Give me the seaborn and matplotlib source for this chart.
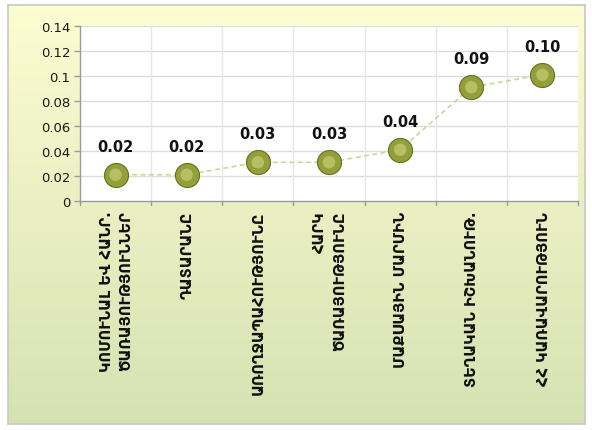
import numpy as np
import pandas as pd
import matplotlib
matplotlib.use("Agg")
import matplotlib.pyplot as plt
import seaborn as sns

categories = [
    "ԿՈՄՈՒՆԱԼ ԵՎ ՀԱՆՐ.\nԾԱՌԱՅՈՒԹՅՈՒՆՆԵՐ",
    "ԴԱՏԱՐԱՆԸ",
    "ԱՌՈՂՋԱՊԱՀՈՒԹՅՈՒՆԸ",
    "ՀԱՐԿ\nԾԱՌԱՅՈՒԹՅՈՒՆԸ",
    "ՄԱՔՍԱՅԻՆ ՄԱՐՄԻՆ",
    "ՏԵՂԱԿԱՆ ԻՇԽԱՆՈՒԹ.",
    "ՀՀ ԿԱՌԱՎԱՐՈՒԹՅՈՒՆ",
]
values = [0.021, 0.021, 0.031, 0.031, 0.041, 0.091, 0.101]
value_labels = ["0.02", "0.02", "0.03", "0.03", "0.04", "0.09", "0.10"]
yticks = [0, 0.02, 0.04, 0.06, 0.08, 0.1, 0.12, 0.14]
ytick_labels = ["0", "0.02", "0.04", "0.06", "0.08", "0.1", "0.12", "0.14"]

sns.set_theme(style="white")
plt.rcParams['font.family'] = ['DejaVu Sans']

W, H = 592, 431
fig = plt.figure(figsize=(W / 100, H / 100), dpi=100, facecolor="white")

# background panel with gradient
bg = fig.add_axes([8 / W, 6 / H, 577 / W, 419 / H], zorder=0)
top = np.array([0.99, 0.99, 0.82])
bot = np.array([0.84, 0.885, 0.70])
t = np.linspace(0, 1, 256)[:, None]
grad = (top[None, :] * (1 - t) + bot[None, :] * t)[:, None, :]
grad = np.repeat(grad, 4, axis=1)
bg.imshow(grad, aspect="auto", extent=[0, 1, 0, 1], origin="upper")
bg.set_xticks([]); bg.set_yticks([])
for s in bg.spines.values():
    s.set_color("#c8c8c8")
    s.set_linewidth(1.2)

ax = fig.add_axes([80 / W, 1 - 202 / H, 498 / W, 175 / H], zorder=2)
ax.set_facecolor("white")

df = pd.DataFrame({"x": np.arange(len(values)), "y": values})
sns.lineplot(data=df, x="x", y="y", ax=ax, color="#c5d89e", linewidth=1.2,
             linestyle=(0, (3, 2)), zorder=3)
sns.scatterplot(data=df, x="x", y="y", ax=ax, s=300, color="#959f3a",
                edgecolor="#66701f", linewidth=0.8, zorder=4, legend=False)
sns.scatterplot(data=df, x="x", y="y", ax=ax, s=80, color="#cfd67f",
                edgecolor="none", linewidth=0, zorder=5, legend=False, alpha=0.6)

for i, (v, lab) in enumerate(zip(values, value_labels)):
    ax.annotate(lab, (i, v), xytext=(0, 15), textcoords="offset points",
                ha="center", va="bottom", fontsize=10.5, fontweight="bold",
                color="#111111", zorder=6)

ax.set_xlim(-0.5, len(values) - 0.5)
ax.set_ylim(0, 0.14)
ax.set_yticks(yticks)
ax.set_yticklabels(ytick_labels, fontsize=9.5, color="#1a1a1a")
ax.set_xticks(np.arange(len(values)))
ax.set_xticklabels(categories, rotation=90, fontsize=10.5, fontweight="bold",
                   color="#111111", multialignment="right", linespacing=1.4,
                   va="top", ha="center")
ax.set_xlabel(""); ax.set_ylabel("")

# gridlines
for yv in yticks[1:]:
    ax.axhline(yv, color="#dcdcdc", linewidth=1.0, zorder=1)
for xb in np.arange(0.5, len(values) - 0.5, 1.0):
    ax.axvline(xb, color="#e6e6e6", linewidth=1.0, zorder=1)

for s in ["top", "right"]:
    ax.spines[s].set_visible(False)
for s in ["left", "bottom"]:
    ax.spines[s].set_color("#9a9a9a")
    ax.spines[s].set_linewidth(1.0)

ax.tick_params(axis="y", length=4, width=1, color="#9a9a9a", pad=3, left=True)
ax.tick_params(axis="x", length=0, pad=7)
for xb in np.arange(-0.5, len(values) + 0.5, 1.0):
    ax.plot([xb, xb], [0, -0.0035], color="#9a9a9a", linewidth=1.0,
            clip_on=False, zorder=2)

fig.savefig("out.png", dpi=100, facecolor="white")
